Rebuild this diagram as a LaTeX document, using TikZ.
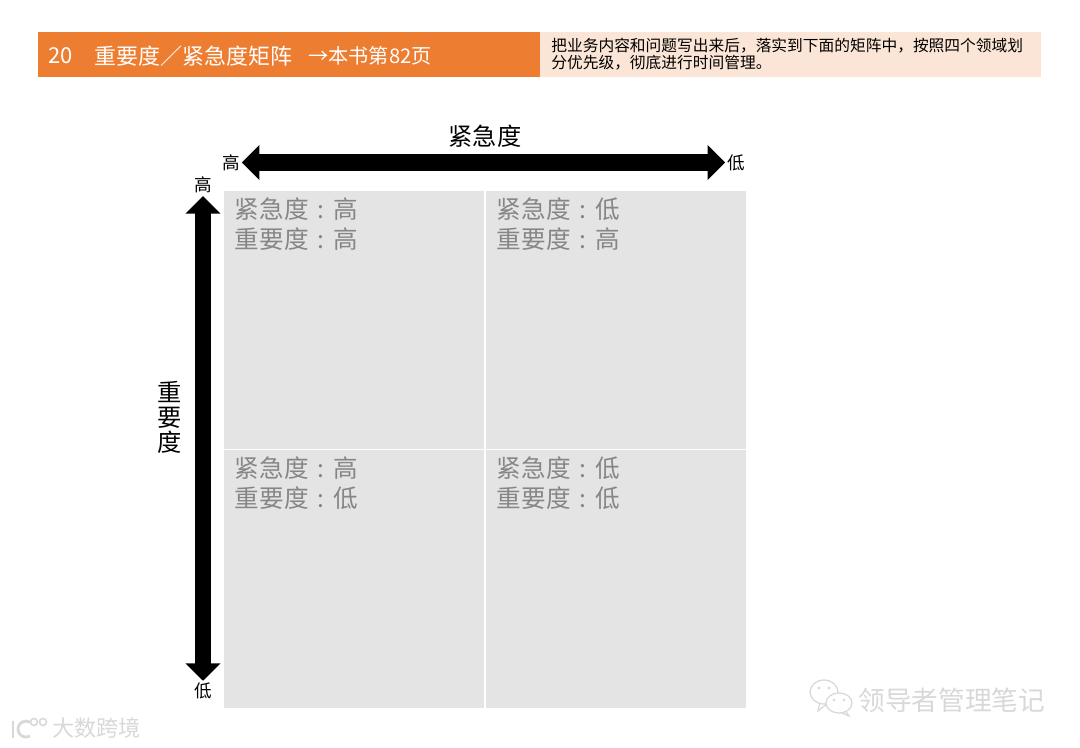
\documentclass[tikz,border=0pt]{standalone}
\usepackage{fontspec}
\setmainfont{Noto Sans CJK SC}
\usepackage{tikz}
\usetikzlibrary{arrows.meta}
\definecolor{headorange}{RGB}{237,125,49}
\definecolor{headpale}{RGB}{251,229,214}
\definecolor{cellgray}{RGB}{228,228,228}
\definecolor{celltext}{RGB}{134,134,134}
\definecolor{markgray}{RGB}{216,216,216}
\newcommand{\cellcolon}{\makebox[1em][c]{:}}
\tikzset{
  cell/.style={fill=cellgray, draw=none, inner sep=0pt, minimum width=5.2cm, minimum height=5.16cm},
  celllabel/.style={anchor=north west, align=left, inner sep=0pt, text=celltext, font=\fontsize{14}{17}\selectfont},
  endlabel/.style={inner sep=0pt, font=\fontsize{10}{12}\selectfont},
  axisarrow/.style={line width=0.33cm, {Triangle[length=0.35cm,width=0.68cm]}-{Triangle[length=0.35cm,width=0.68cm]}},
  axistitle/.style={inner sep=0pt, align=center, font=\fontsize{13.8}{14.3}\selectfont},
  watermark/.style={inner sep=0pt, text=markgray, font=\fontsize{15.2}{17}\selectfont},
  headtext/.style={anchor=west, inner sep=0pt, text=white, font=\fontsize{12.5}{14}\selectfont}
}
\begin{document}
\begin{tikzpicture}[x=0.02cm, y=-0.02cm]
    \useasboundingbox (0,0) rectangle (1080,748);

    % 标题栏
    \fill[headorange] (38,32) rectangle (540,77);
    \fill[headpale] (540,32) rectangle (1041,77);
    \node[headtext] (numtext) at (48,56) {20};
    \node[headtext] (titletext) at (94,56) {重要度／紧急度矩阵};
    \node[headtext, font=\fontsize{11.5}{14}\selectfont] (reftext) at (308,56) {→本书第82页};
    \node[anchor=west, inner sep=0pt, align=left, font=\fontsize{8.95}{9.6}\selectfont] (desctext) at (551,54)
        {把业务内容和问题写出来后，落实到下面的矩阵中，按照四个领域划\\分优先级，彻底进行时间管理。};

    % 四个象限
    \node[cell, anchor=north west] (cellA) at (224,191) {};
    \node[cell, anchor=north west] (cellB) at (486,191) {};
    \node[cell, anchor=north west] (cellC) at (224,450) {};
    \node[cell, anchor=north west] (cellD) at (486,450) {};

    % 象限文字
    \node[celllabel] (textA) at (234.5,197.5) {紧急度\cellcolon 高\\重要度\cellcolon 高};
    \node[celllabel] (textB) at (496.5,197.5) {紧急度\cellcolon 低\\重要度\cellcolon 高};
    \node[celllabel] (textC) at (234.5,456.5) {紧急度\cellcolon 高\\重要度\cellcolon 低};
    \node[celllabel] (textD) at (496.5,456) {紧急度\cellcolon 低\\重要度\cellcolon 低};

    % 横轴
    \node[axistitle] (urgtitle) at (485,136) {紧急度};
    \node[endlabel] (urghigh) at (231,162.5) {高};
    \node[endlabel] (urglow) at (736,162.5) {低};
    \draw[axisarrow, shorten <=1pt, shorten >=1pt] (urghigh) -- (urglow);

    % 纵轴
    \node[axistitle] (imptitle) at (169.5,417) {重\\要\\度};
    \node[endlabel] (imphigh) at (203,185) {高};
    \node[endlabel] (implow) at (203,691) {低};
    \draw[axisarrow, shorten <=1.5pt, shorten >=1pt] (imphigh) -- (implow);

    % 水印
    \node[watermark, anchor=west, font=\fontsize{12.6}{14}\selectfont] (marksite) at (52,728) {大数跨境};
    \node[watermark, anchor=west] (markname) at (858,700) {领导者管理笔记};
    \draw[markgray, line width=1.6pt] (13,721) -- (13,738);
    \draw[markgray, line width=1.6pt] (30,736) arc (60:300:8);
    \draw[markgray, line width=0.9pt] (34,722) circle (3.5);
    \draw[markgray, line width=0.9pt] (43,722) circle (3.5);
    \filldraw[draw=markgray, fill=white, line width=0.7pt] (820,702) -- (818,711) -- (828,703) -- cycle;
    \filldraw[draw=markgray, fill=white, line width=0.7pt] (824,692) ellipse (14 and 12);
    \filldraw[draw=markgray, fill=white, line width=0.7pt] (845,710) -- (849,716) -- (840,712) -- cycle;
    \filldraw[draw=markgray, fill=white, line width=0.7pt] (839,703) ellipse (13 and 10);
    \fill[markgray] (819,688) circle (1.6);
    \fill[markgray] (829,688) circle (1.6);
    \fill[markgray] (834,700) circle (1.4);
    \fill[markgray] (844,700) circle (1.4);
\end{tikzpicture}
\end{document}
